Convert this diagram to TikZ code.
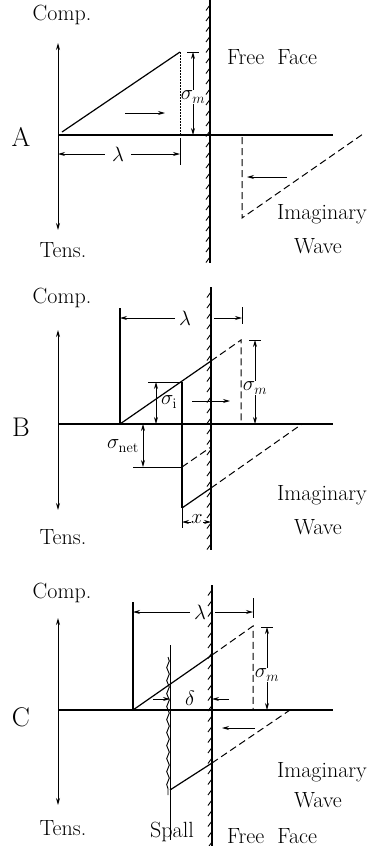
\documentclass[tikz,border=0pt]{standalone}
\usetikzlibrary{arrows.meta,decorations.pathmorphing}
\begin{document}
\begin{tikzpicture}[x=1pt,y=-1pt,
  lbl/.style={font=\fontsize{22}{24}\selectfont, inner sep=0pt},
  big/.style={font=\fontsize{27}{30}\selectfont, inner sep=0pt},
  mlbl/.style={font=\fontsize{22}{24}\selectfont, inner sep=1pt},
  main/.style={line width=1.2pt},
  thinl/.style={line width=0.8pt},
  dsh/.style={line width=1pt, dash pattern=on 7pt off 4pt},
  dotv/.style={line width=0.8pt, dash pattern=on 2pt off 1pt},
  axis/.style={line width=1pt, {Stealth[length=7pt,width=4pt]}-{Stealth[length=7pt,width=4pt]}},
  arr/.style={line width=0.8pt, -{Stealth[length=7pt,width=4pt]}},
  darr/.style={line width=0.8pt, {Stealth[length=7pt,width=4pt]}-{Stealth[length=7pt,width=4pt]}},
  wall/.style={line width=1.2pt}
]
\useasboundingbox (0,0) rectangle (380,846);

% ---------- hatch helper
\newcommand{\hatchwall}[3]{%
  \draw[wall] (#1,#2) -- (#1,#3);
  \pgfmathsetmacro{\ystart}{#2+6}
  \pgfmathsetmacro{\ystep}{#2+16.5}
  \foreach \yy in {\ystart,\ystep,...,#3}{\draw[line width=0.9pt] (#1-4,\yy+4.5) -- (#1+0.3,\yy-1.5);}
}

% ================= Panel A =================
\coordinate (Atop) at (58,43); \coordinate (Abot) at (58,230);
\draw[axis] (Atop) -- (Abot);
\coordinate (A0) at (58,135); \coordinate (Aend) at (333,135);
\draw[main] (A0) -- (Aend);
\hatchwall{210}{0}{263}
\node[lbl] (compA) at (62,15) {Comp.};
\node[lbl] (tensA) at (63,250) {Tens.};
\node[big] (labA) at (21,137) {A};
\node[lbl] (ffA) at (272,57) {Free\ \ Face};
\coordinate (wA1) at (62,132); \coordinate (wA2) at (180,52); \coordinate (wA3) at (180,135);
\draw[main] (wA1) -- (wA2);
\draw[dotv] (wA2) -- (wA3);
% sigma_m
\node[mlbl] (smA) at (193,97) {$\sigma_m$};
\coordinate (smAt) at (193,52); \coordinate (smAb) at (193,135);
\draw[thinl] (187,52) -- (199,52);
\draw[arr] (smA.north) -- (smAt);
\draw[arr] (smA.south) -- (smAb);
% arrow right
\coordinate (arA1) at (125,113); \coordinate (arA2) at (165,113);
\draw[arr] (arA1) -- (arA2);
% lambda
\node[mlbl] (lamA) at (118,154) {$\lambda$};
\coordinate (lAl) at (58,154); \coordinate (lAr) at (180,154);
\draw[arr] (lamA.west) ++(-6,0) -- (lAl);
\draw[arr] (lamA.east) ++(6,0) -- (lAr);
\draw[thinl] (180,138) -- (180,165);
% imaginary wave
\coordinate (iA1) at (242,137); \coordinate (iA2) at (242,218); \coordinate (iA3) at (363,134);
\draw[dsh] (iA1) -- (iA2) -- (iA3);
\coordinate (alA1) at (287,177); \coordinate (alA2) at (247,177);
\draw[arr] (alA1) -- (alA2);
\node[lbl] (imA) at (322,214) {Imaginary};
\node[lbl] (wvA) at (318,246) {Wave};

% ================= Panel B =================
\coordinate (Btop) at (58,330); \coordinate (Bbot) at (58,510);
\draw[axis] (Btop) -- (Bbot);
\coordinate (B0) at (58,424); \coordinate (Bend) at (333,424);
\draw[main] (B0) -- (Bend);
\hatchwall{211}{287}{550}
\node[lbl] (compB) at (62,298) {Comp.};
\node[lbl] (tensB) at (63,537) {Tens.};
\node[big] (labB) at (21,427) {B};
\coordinate (Bs) at (120,424); \coordinate (Bst) at (120,308);
\draw[main] (Bs) -- (Bst);
% lambda
\node[mlbl] (lamB) at (185,318) {$\lambda$};
\coordinate (lBl) at (120,318); \coordinate (lBr) at (242,318);
\draw[arr] (175,318) -- (lBl);
\draw[arr] (214,318) -- (lBr);
\draw[thinl] (242,307) -- (242,324);
% incident
\coordinate (Bw) at (211,361); \coordinate (Bf) at (241,340); \coordinate (Bfb) at (241,424);
\draw[main] (Bs) -- (Bw);
\draw[dsh] (Bw) -- (Bf) -- (Bfb);
% sigma_m
\node[mlbl] (smB) at (255,388) {$\sigma_m$};
\draw[thinl] (249,340) -- (261,340);
\draw[arr] (smB.north) -- (255,340);
\draw[arr] (smB.south) -- (255,424);
% sigma_i
\coordinate (Bi) at (182,382); \coordinate (Bib) at (182,508);
\draw[thinl] (148,382) -- (Bi);
\draw[main] (Bi) -- (Bib);
\draw[darr] (156,382) -- (156,424);
\node[mlbl] (siB) at (169,402) {$\sigma_{\mathrm{i}}$};
% arrow right
\draw[arr] (192,401) -- (230,401);
% sigma_net
\coordinate (Bn) at (182,467);
\draw[thinl] (133,467) -- (Bn);
\draw[darr] (143,424) -- (143,467);
\node[mlbl, anchor=east] (snB) at (140,446) {$\sigma_{\mathrm{net}}$};
\coordinate (Bnw) at (211,447);
\draw[dsh] (Bn) -- (Bnw);
% reflected
\coordinate (Bw2) at (211,488); \coordinate (Bre) at (302,424);
\draw[main] (Bib) -- (Bw2);
\draw[dsh] (Bw2) -- (Bre);
% x dim
\draw[thinl] (182,508) -- (182,528);
\draw[darr] (182,522) -- (211,522);
\node[mlbl, fill=white, inner sep=0.5pt] (xB) at (197,519) {$x$};
\node[lbl] (imB) at (322,495) {Imaginary};
\node[lbl] (wvB) at (318,527) {Wave};

% ================= Panel C =================
\coordinate (Ctop) at (58,618); \coordinate (Cbot) at (58,805);
\draw[axis] (Ctop) -- (Cbot);
\coordinate (C0) at (58,710); \coordinate (Cend) at (333,710);
\draw[main] (C0) -- (Cend);
\hatchwall{212}{585}{846}
\node[lbl] (compC) at (62,593) {Comp.};
\node[lbl] (tensC) at (63,828) {Tens.};
\node[big] (labC) at (21,717) {C};
\coordinate (Cs) at (133,710); \coordinate (Cst) at (133,602);
\draw[main] (Cs) -- (Cst);
% lambda
\node[mlbl] (lamC) at (200,612) {$\lambda$};
\draw[arr] (190,612) -- (133,612);
\draw[arr] (215,612) -- (253,612);
\draw[thinl] (253,598) -- (253,618);
% incident
\coordinate (Cw) at (212,655); \coordinate (Cf) at (253,626); \coordinate (Cfb) at (253,710);
\draw[main] (Cs) -- (Cw);
\draw[dsh] (Cw) -- (Cf) -- (Cfb);
% sigma_m
\node[mlbl] (smC) at (267,675) {$\sigma_m$};
\draw[thinl] (261,627) -- (273,627);
\draw[arr] (smC.north) -- (267,627);
\draw[arr] (smC.south) -- (267,710);
% spall
\coordinate (sp1) at (170,645); \coordinate (sp2) at (170,840);
\draw[line width=0.7pt] (sp1) -- (sp2);
\draw[line width=0.9pt, decorate, decoration={snake, amplitude=1.3pt, segment length=13pt}] (168,657) -- (168,795);
% delta
\node[mlbl] (dC) at (190,698) {$\delta$};
\draw[arr] (153,699) -- (170,699);
\draw[arr] (229,699) -- (212,699);
% reflected
\coordinate (Cr1) at (170,790); \coordinate (Cw2) at (212,763); \coordinate (Cre) at (290,710);
\draw[main] (Cr1) -- (Cw2);
\draw[dsh] (Cw2) -- (Cre);
\draw[arr] (255,728) -- (222,728);
\node[lbl] (imC) at (322,772) {Imaginary};
\node[lbl] (wvC) at (318,800) {Wave};
\node[lbl] (spC) at (172,832) {Spall};
\node[lbl] (ffC) at (272,836) {Free\ \ Face};
\end{tikzpicture}
\end{document}
